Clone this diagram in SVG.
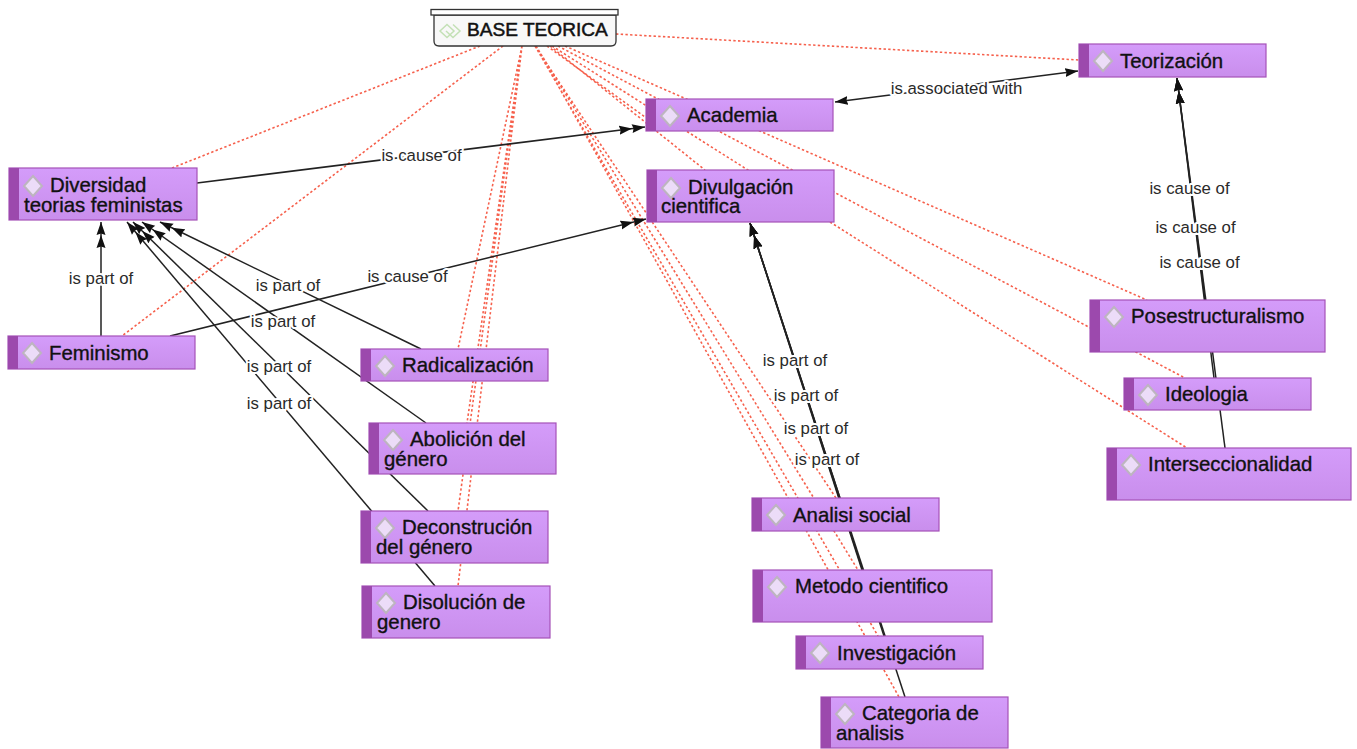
<svg xmlns="http://www.w3.org/2000/svg" width="1357" height="749" viewBox="0 0 1357 749">
<style>
text{font-family:"Liberation Sans",Arial,sans-serif;fill:#111}
.t{font-size:20.400px;stroke:#111;stroke-width:.35px;transform:translateY(1px)}
.l{font-size:16.800px;text-anchor:middle;fill:#2a2a2a;stroke:#fff;stroke-width:4px;paint-order:stroke;stroke-linejoin:round}
.b{fill:url(#g);stroke:#a552b8;stroke-width:1.2}
.s{fill:#9c49ad}
.d{fill:#ecdcf8;stroke:#bdb5bf;stroke-width:2}
.r{fill:none;stroke:#f6604c;stroke-width:1.600;stroke-dasharray:2.400 2.300}
.a{fill:none;stroke:#222;stroke-width:1.500;marker-end:url(#m2)}
.c{fill:none;stroke:#222;stroke-width:1.500;marker-start:url(#m1);marker-end:url(#m1)}
</style>
<defs>
<linearGradient id="g" x1="0" y1="0" x2="0" y2="1"><stop offset="0" stop-color="#d49cfa"/><stop offset="1" stop-color="#c98eec"/></linearGradient>
<marker id="m1" markerUnits="userSpaceOnUse" markerWidth="14" markerHeight="10" refX="13" refY="5" orient="auto-start-reverse"><path d="M0 0.500L13 5L0 9.500L1.500 5Z" fill="#111"/></marker>
<marker id="m2" markerUnits="userSpaceOnUse" markerWidth="27" markerHeight="10" refX="26" refY="5" orient="auto"><path d="M13 0.500L26 5L13 9.500L14.500 5ZM0 0.500L13 5L0 9.500L1.500 5Z" fill="#111"/></marker>
</defs>
<g id="connectors">
<path class="r" d="M616 34L1079 60M480 46L172 168M503 46L122 336"/>
<path class="r" d="M522 46L458 349M522 46L467 423M522 46L458 511M522 46L458 586"/>
<path class="r" d="M536 46L899 697M535 46L878 636M536 46L858 570M535 46L836 498"/>
<path class="r" d="M547 46L645 117M550 46L705 170M552 46L1187 448M558 46L1185 378M565 46L1147 300"/>
<path class="a" d="M197 183L645 127"/>
<path class="a" d="M170 336L646 219"/>
<path class="a" d="M101 336V222"/>
<path class="a" d="M421 349L160 222"/>
<path class="a" d="M426 423L142 222"/>
<path class="a" d="M428 511L133 222"/>
<path class="a" d="M435 586L127 222"/>
<path class="a" d="M1205 300L1177 78"/>
<path class="a" d="M1214 378L1177 78"/>
<path class="a" d="M1225 448L1177 78"/>
<path class="a" d="M840 498L750 223"/>
<path class="a" d="M862 570L750 223"/>
<path class="a" d="M884 636L750 223"/>
<path class="a" d="M905 697L750 223"/>
<path class="c" d="M835 102L1078 71"/>
</g>
<g id="link-labels">
<text class="l" x="956.500" y="94">is associated with</text>
<text class="l" x="421.500" y="161">is cause of</text>
<text class="l" x="407.500" y="282">is cause of</text>
<text class="l" x="1189.500" y="194">is cause of</text>
<text class="l" x="1195.500" y="233">is cause of</text>
<text class="l" x="1199.500" y="268">is cause of</text>
<text class="l" x="101" y="284">is part of</text>
<text class="l" x="288" y="291">is part of</text>
<text class="l" x="283" y="327">is part of</text>
<text class="l" x="279" y="372">is part of</text>
<text class="l" x="279" y="409">is part of</text>
<text class="l" x="795" y="366">is part of</text>
<text class="l" x="806" y="401">is part of</text>
<text class="l" x="816" y="434">is part of</text>
<text class="l" x="827" y="465">is part of</text>
</g>
<g id="base-teorica">
<path d="M434 15H616V41Q616 46 611 46H439Q434 46 434 41Z" fill="#f8f8f8" stroke="#333" stroke-width="1.300"/>
<rect x="431" y="9.500" width="187" height="5.500" fill="#fff" stroke="#333" stroke-width="1.300"/>
<path d="M447 24.500L454 31L447 37.500L440 31ZM453 24.500L460 31L453 37.500L446 31" fill="none" stroke="#c3e0b5" stroke-width="1.500"/>
<text x="467" y="36" style="font-size:19.100px;stroke:#111;stroke-width:.5px">BASE TEORICA</text>
</g>
<g id="teorizacion"><rect class="b" x="1079" y="44" width="187" height="33"/><rect class="s" x="1079" y="44" width="10" height="33"/><path class="d" d="M1103 51L1112 61L1103 71L1094 61Z"/><text class="t" x="1120" y="67">Teorización</text></g>
<g id="academia"><rect class="b" x="646" y="99" width="187" height="32"/><rect class="s" x="646" y="99" width="10" height="32"/><path class="d" d="M670 106L679 116L670 126L661 116Z"/><text class="t" x="687" y="121">Academia</text></g>
<g id="diversidad"><rect class="b" x="9" y="168" width="188" height="52"/><rect class="s" x="9" y="168" width="10" height="52"/><path class="d" d="M33 176L42 186L33 196L24 186Z"/><text class="t" x="50" y="191">Diversidad</text><text class="t" x="24" y="211">teorias feministas</text></g>
<g id="divulgacion"><rect class="b" x="647" y="170" width="187" height="52"/><rect class="s" x="647" y="170" width="10" height="52"/><path class="d" d="M671 178L680 188L671 198L662 188Z"/><text class="t" x="688" y="193">Divulgación</text><text class="t" x="661" y="212">cientifica</text></g>
<g id="feminismo"><rect class="b" x="8" y="336" width="187" height="33"/><rect class="s" x="8" y="336" width="10" height="33"/><path class="d" d="M32 343L41 353L32 363L23 353Z"/><text class="t" x="49" y="359">Feminismo</text></g>
<g id="radicalizacion"><rect class="b" x="361" y="349" width="187" height="32"/><rect class="s" x="361" y="349" width="10" height="32"/><path class="d" d="M385 356L394 366L385 376L376 366Z"/><text class="t" x="402" y="371">Radicalización</text></g>
<g id="abolicion"><rect class="b" x="369" y="423" width="187" height="51"/><rect class="s" x="369" y="423" width="10" height="51"/><path class="d" d="M393 430L402 440L393 450L384 440Z"/><text class="t" x="410" y="445">Abolición del</text><text class="t" x="384" y="465">género</text></g>
<g id="deconstruccion"><rect class="b" x="361" y="511" width="187" height="52"/><rect class="s" x="361" y="511" width="10" height="52"/><path class="d" d="M385 518L394 528L385 538L376 528Z"/><text class="t" x="402" y="533">Deconstrución</text><text class="t" x="376" y="553">del género</text></g>
<g id="disolucion"><rect class="b" x="362" y="586" width="188" height="52"/><rect class="s" x="362" y="586" width="10" height="52"/><path class="d" d="M386 593L395 603L386 613L377 603Z"/><text class="t" x="403" y="608">Disolución de</text><text class="t" x="377" y="628">genero</text></g>
<g id="posestructuralismo"><rect class="b" x="1090" y="300" width="235" height="52"/><rect class="s" x="1090" y="300" width="10" height="52"/><path class="d" d="M1114 307L1123 317L1114 327L1105 317Z"/><text class="t" x="1131" y="322">Posestructuralismo</text></g>
<g id="ideologia"><rect class="b" x="1124" y="378" width="187" height="32"/><rect class="s" x="1124" y="378" width="10" height="32"/><path class="d" d="M1148 385L1157 395L1148 405L1139 395Z"/><text class="t" x="1165" y="400">Ideologia</text></g>
<g id="interseccionalidad"><rect class="b" x="1107" y="448" width="244" height="52"/><rect class="s" x="1107" y="448" width="10" height="52"/><path class="d" d="M1131 455L1140 465L1131 475L1122 465Z"/><text class="t" x="1148" y="470">Interseccionalidad</text></g>
<g id="analisi-social"><rect class="b" x="752" y="498" width="187" height="33"/><rect class="s" x="752" y="498" width="10" height="33"/><path class="d" d="M776 505L785 515L776 525L767 515Z"/><text class="t" x="793" y="521">Analisi social</text></g>
<g id="metodo-cientifico"><rect class="b" x="753" y="570" width="239" height="52"/><rect class="s" x="753" y="570" width="10" height="52"/><path class="d" d="M777 577L786 587L777 597L768 587Z"/><text class="t" x="795" y="592">Metodo cientifico</text></g>
<g id="investigacion"><rect class="b" x="796" y="636" width="187" height="33"/><rect class="s" x="796" y="636" width="10" height="33"/><path class="d" d="M820 643L829 653L820 663L811 653Z"/><text class="t" x="837" y="659">Investigación</text></g>
<g id="categoria"><rect class="b" x="821" y="697" width="187" height="51"/><rect class="s" x="821" y="697" width="10" height="51"/><path class="d" d="M845 704L854 714L845 724L836 714Z"/><text class="t" x="862" y="719">Categoria de</text><text class="t" x="836" y="739">analisis</text></g>
</svg>
